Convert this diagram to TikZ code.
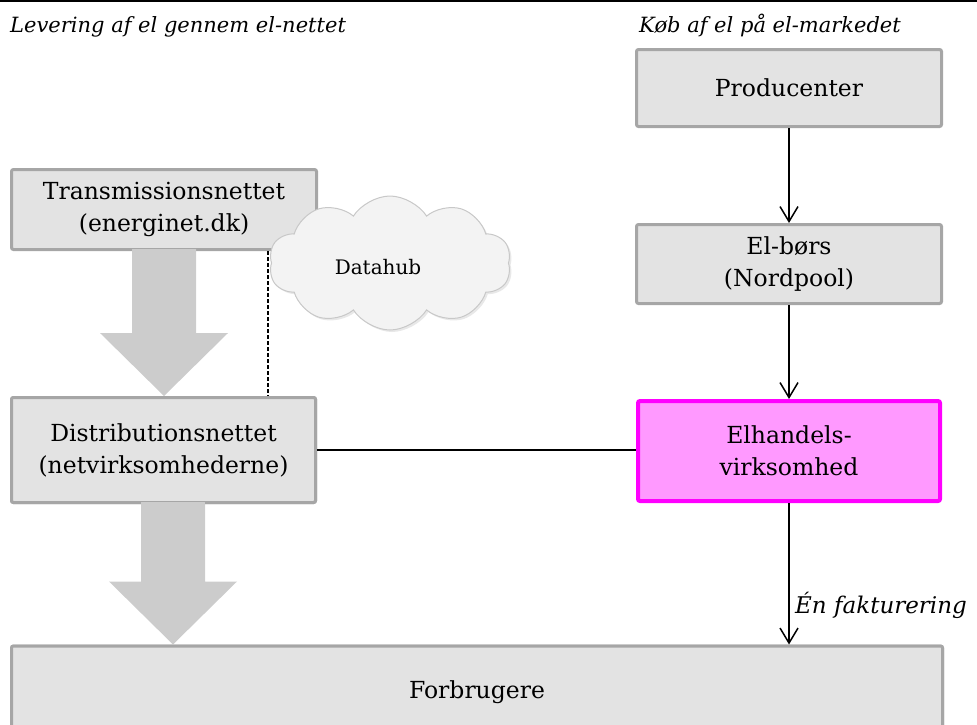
\documentclass[tikz,border=0pt]{standalone}
\usepackage{fontspec}
\setmainfont{DejaVu Serif}
\usetikzlibrary{shapes.symbols,arrows.meta,calc,shadows}

\definecolor{boxfill}{HTML}{E3E3E3}
\definecolor{boxline}{HTML}{A6A6A6}
\definecolor{flowgray}{HTML}{CCCCCC}
\definecolor{elfill}{HTML}{FF99FF}
\definecolor{elline}{HTML}{FF00FF}
\definecolor{cloudfill}{HTML}{F3F3F3}
\definecolor{cloudline}{HTML}{C8C8C8}

\begin{document}
\begin{tikzpicture}[x=1pt,y=-1pt,
  box/.style={draw=boxline, fill=boxfill, line width=3pt, rounded corners=2pt,
    align=center, inner sep=0pt, font=\fontsize{23.5}{32}\selectfont},
  tradebox/.style={box, draw=elline, fill=elfill, line width=4pt},
  heading/.style={anchor=base west, inner sep=0pt, font=\fontsize{21}{24}\selectfont\itshape},
  flow/.style={line width=1.5pt, -{Straight Barb[length=15pt,width=18pt]}},
  link/.style={line width=1.5pt},
  dashedlink/.style={line width=2pt, dash pattern=on 4pt off 2pt},
  bigarrow/.style={fill=flowgray},
  hub/.style={cloud, cloud puffs=10, cloud puff arc=115, aspect=1.8,
    draw=cloudline, line width=1pt, fill=cloudfill,
    minimum width=242pt, minimum height=134pt,
    drop shadow={opacity=0.18, shadow xshift=2pt, shadow yshift=-2pt}},
  hubtext/.style={inner sep=0pt, font=\fontsize{20}{24}\selectfont},
  note/.style={anchor=base west, inner sep=0pt, font=\fontsize{23}{26}\selectfont\itshape}]

\useasboundingbox (0,0) rectangle (977,724);
\clip (0,0) rectangle (977,724);

% rule along the top edge
\draw[line width=2pt] (0,1) -- (977,1);

% column headings
\node[heading] (hleft) at (10,32) {Levering af el gennem el-nettet};
\node[heading] (hright) at (639,32) {Køb af el på el-markedet};

% market side
\node[box, minimum width=305pt, minimum height=77pt] (prod) at (789,88) {Producenter};
\node[box, minimum width=305pt, minimum height=79pt] (bors) at (789,264) {El-børs\\(Nordpool)};
\node[tradebox, minimum width=302pt, minimum height=100pt] (elh) at (789,451) {Elhandels-\\virksomhed};

% grid side
\node[box, minimum width=305pt, minimum height=80pt] (trans) at (164,209.5) {Transmissionsnettet\\(energinet.dk)};
\node[box, minimum width=304pt, minimum height=105pt] (dist) at (163.5,450) {Distributionsnettet\\(netvirksomhederne)};
\node[box, minimum width=931pt, minimum height=92pt] (forb) at (477,692) {Forbrugere};

% wide grey delivery arrows
\coordinate (t1) at (trans.south);
\coordinate (h1) at (t1 |- dist.north);
\fill[bigarrow] ($(t1)+(-32,-2)$) -- ($(t1)+(32,-2)$) -- ($(h1)+(32,-63)$) -- ($(h1)+(64,-63)$)
  -- (h1) -- ($(h1)+(-64,-63)$) -- ($(h1)+(-32,-63)$) -- cycle;
\coordinate (t2) at ($(dist.south)+(9.5,0)$);
\coordinate (h2) at (t2 |- forb.north);
\fill[bigarrow] ($(t2)+(-32,-2)$) -- ($(t2)+(32,-2)$) -- ($(h2)+(32,-63)$) -- ($(h2)+(64,-63)$)
  -- (h2) -- ($(h2)+(-64,-63)$) -- ($(h2)+(-32,-63)$) -- cycle;

% redraw the box edges the arrows meet
\node[box, minimum width=304pt, minimum height=105pt] at (dist) {Distributionsnettet\\(netvirksomhederne)};
\node[box, minimum width=931pt, minimum height=92pt] at (forb) {Forbrugere};
\fill[bigarrow] ($(t2)+(-32,-2)$) rectangle ($(t2)+(32,2)$);

% data link between the grids and the hub
\coordinate (dx) at (268,0);
\draw[dashedlink] (dx |- trans.south) -- (dx |- dist.north);

% data hub
\node[hub] (hubcloud) at (390,263) {};
\node[hubtext] (hublabel) at ($(hubcloud.center)+(-12,4)$) {Datahub};

% market flows
\draw[flow] (prod.south) -- (bors.north);
\draw[flow] (bors.south) -- (elh.north);
\draw[link] (dist.east) -- (dist.east -| elh.west);
\draw[flow] (elh.south) -- (elh.south |- forb.north);
\node[note] (bill) at ($(elh.south |- forb.north)+(6,-31)$) {Én fakturering};
\end{tikzpicture}
\end{document}
